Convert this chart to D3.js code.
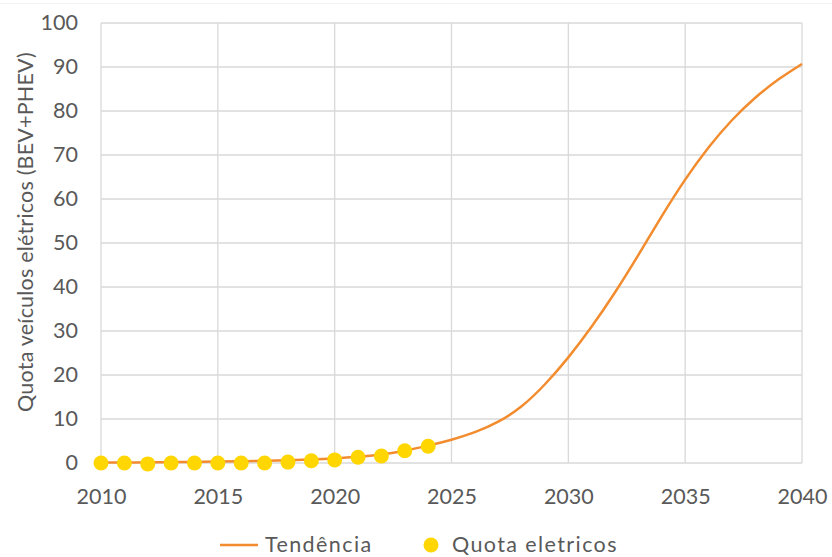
<!DOCTYPE html>
<html><head><meta charset="utf-8">
<script src="https://cdn.jsdelivr.net/npm/d3@7"></script>
<style>
html,body{margin:0;padding:0;background:#fff;}
svg{display:block;font-family:Lato,"Noto Sans",sans-serif;}
</style></head>
<body>
<svg id="c" width="832" height="557"></svg>
<script>
const quotaYears = [2010,2011,2012,2013,2014,2015,2016,2017,2018,2019,2020,2021,2022,2023,2024];
const quotaValues = [0,0,-0.2,0,0,0,0,0,0.2,0.5,0.7,1.3,1.6,2.8,3.8];
const trendYears = [2010,2011,2012,2013,2014,2015,2016,2017,2018,2019,2020,2021,2022,2023,2024,2025,2026,2027,2028,2029,2030,2031,2032,2033,2034,2035,2036,2037,2038,2039,2040];
const trendValues = [0.1,0.12,0.15,0.2,0.25,0.32,0.4,0.5,0.64,0.82,1.05,1.4,1.95,2.8,3.95,5.3,7.0,9.4,12.9,17.9,24.0,31.0,38.8,47.3,56.1,64.4,71.7,77.9,83.0,87.2,90.7];
const xTicks = [2010,2015,2020,2025,2030,2035,2040];
const yTicks = [0,10,20,30,40,50,60,70,80,90,100];
const yTitle = "Quota veículos elétricos (BEV+PHEV)";
const legendLabels = ["Tendência","Quota eletricos"];

const svg = d3.select("#c");
const x = d3.scaleLinear().domain([2010,2040]).range([101,802]);
const y = d3.scaleLinear().domain([0,100]).range([463,23]);
const txt = "#595959", grid = "#D9D9D9", orange = "#F28C2E", yellow = "#FFD600";
const FS = 21.5;

// faint top border
svg.append("line").attr("x1",0).attr("x2",832).attr("y1",3.5).attr("y2",3.5).attr("stroke","#F2F2F2");

const g = svg.append("g");
g.selectAll(".hg").data(yTicks).join("line")
  .attr("x1",x(2010)).attr("x2",x(2040)).attr("y1",d=>y(d)).attr("y2",d=>y(d))
  .attr("stroke",grid).attr("stroke-width",1.3);
g.selectAll(".vg").data(xTicks).join("line")
  .attr("x1",d=>x(d)).attr("x2",d=>x(d)).attr("y1",y(0)).attr("y2",y(100))
  .attr("stroke",grid).attr("stroke-width",1.3);

// axes
const yAxis = svg.append("g").attr("transform",`translate(${x(2010)},0)`)
  .call(d3.axisLeft(y).tickValues(yTicks).tickSize(0).tickPadding(23));
yAxis.select(".domain").remove();
yAxis.selectAll("text").attr("fill",txt).attr("font-size",FS).attr("font-family","Lato,'Noto Sans',sans-serif");

const xAxis = svg.append("g").attr("transform",`translate(0,${y(0)})`)
  .call(d3.axisBottom(x).tickValues(xTicks).tickFormat(d3.format("d")).tickSize(0).tickPadding(26));
xAxis.select(".domain").remove();
xAxis.selectAll("text").attr("fill",txt).attr("font-size",FS).attr("font-family","Lato,'Noto Sans',sans-serif");

// y title
svg.append("text").attr("transform","translate(33,232) rotate(-90)")
  .attr("text-anchor","middle").attr("fill",txt).attr("font-size",21.5).attr("letter-spacing",0.2)
  .text(yTitle);

// trend line
const line = d3.line().x((d,i)=>x(trendYears[i])).y(d=>y(d)).curve(d3.curveNatural);
svg.append("path").attr("d",line(trendValues)).attr("fill","none")
  .attr("stroke",orange).attr("stroke-width",2.5);

// points
svg.selectAll(".pt").data(quotaValues).join("circle")
  .attr("cx",(d,i)=>x(quotaYears[i])).attr("cy",d=>y(d)).attr("r",7.5).attr("fill",yellow);

// legend
const lg = svg.append("g");
lg.append("line").attr("x1",220).attr("x2",258).attr("y1",545).attr("y2",545).attr("stroke",orange).attr("stroke-width",2.5);
lg.append("text").attr("x",265).attr("y",552).attr("fill",txt).attr("font-size",FS).attr("letter-spacing",1.4).text(legendLabels[0]);
lg.append("circle").attr("cx",431).attr("cy",545).attr("r",7.5).attr("fill",yellow);
lg.append("text").attr("x",452).attr("y",552).attr("fill",txt).attr("font-size",FS).attr("letter-spacing",1.4).text(legendLabels[1]);
</script>
</body></html>
